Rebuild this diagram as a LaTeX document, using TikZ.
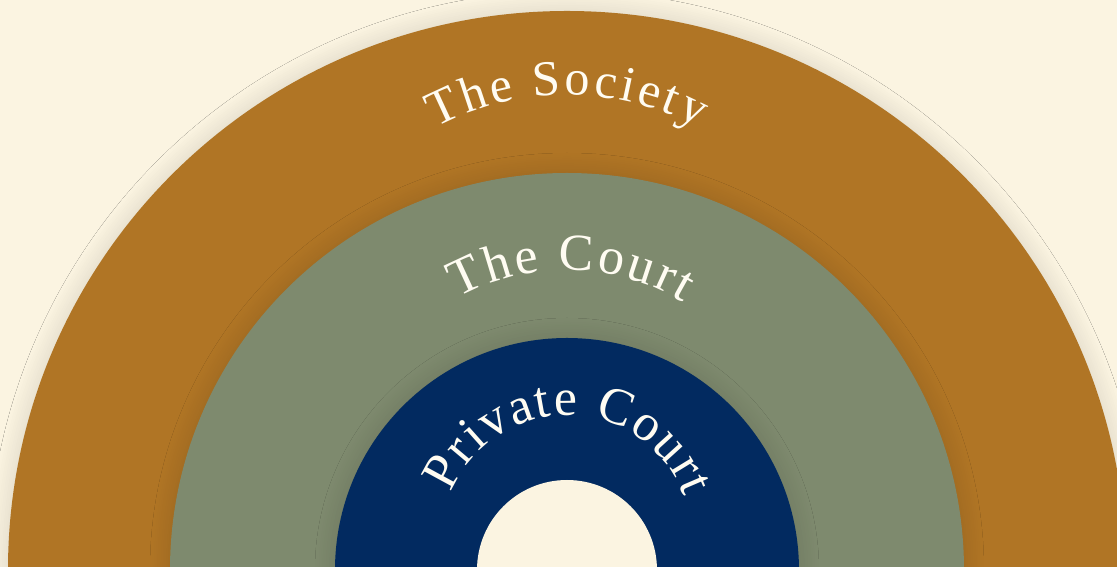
\documentclass[tikz,border=0pt]{standalone}
\usepackage{fontspec}
\setmainfont{Liberation Serif}
\usetikzlibrary{decorations.text,shadows.blur}

\definecolor{cream}{HTML}{FBF4E1}
\definecolor{ochre}{HTML}{B07525}
\definecolor{sage}{HTML}{7E8A6E}
\definecolor{navy}{HTML}{022A60}
\definecolor{ivory}{HTML}{FFFCF2}

\tikzset{
    ring/.style={blur shadow={shadow xshift=0pt, shadow yshift=0pt,
            shadow blur radius=20pt, shadow blur steps=12, shadow opacity=14}},
    arctext/.style={decorate, decoration={text along path,
            text align={fit to path}, text color=ivory}}
}

\begin{document}
\begin{tikzpicture}
    \useasboundingbox (-567pt,3pt) rectangle (550pt,570pt);
    \clip (-567pt,3pt) rectangle (550pt,570pt);
    \fill[cream] (-567pt,3pt) rectangle (550pt,570pt);

    % rings, outside in
    \coordinate (O) at (0pt,0pt);
    \fill[ochre, ring] (O) circle[radius=559pt];
    \fill[sage, ring] (O) circle[radius=397pt];
    \fill[navy, ring] (O) circle[radius=232pt];
    \fill[cream] (O) circle[radius=90pt];

    % curved titles
    \coordinate (society) at (0pt,195pt);
    \coordinate (court) at (0pt,75pt);
    \coordinate (private) at (0pt,30pt);

    \path[arctext, decoration={text={|\fontsize{50}{50}\selectfont|The Society}}]
        (society) ++(118:280pt) arc[start angle=118, end angle=62, radius=280pt];
    \path[arctext, decoration={text={|\fontsize{52}{52}\selectfont|The Court}}]
        (court) ++(119:225pt) arc[start angle=119, end angle=59, radius=225pt];
    \path[arctext, decoration={text={|\fontsize{52}{52}\selectfont|Private Court}}]
        (private) ++(158:125pt) arc[start angle=158, end angle=20, radius=125pt];
\end{tikzpicture}
\end{document}
